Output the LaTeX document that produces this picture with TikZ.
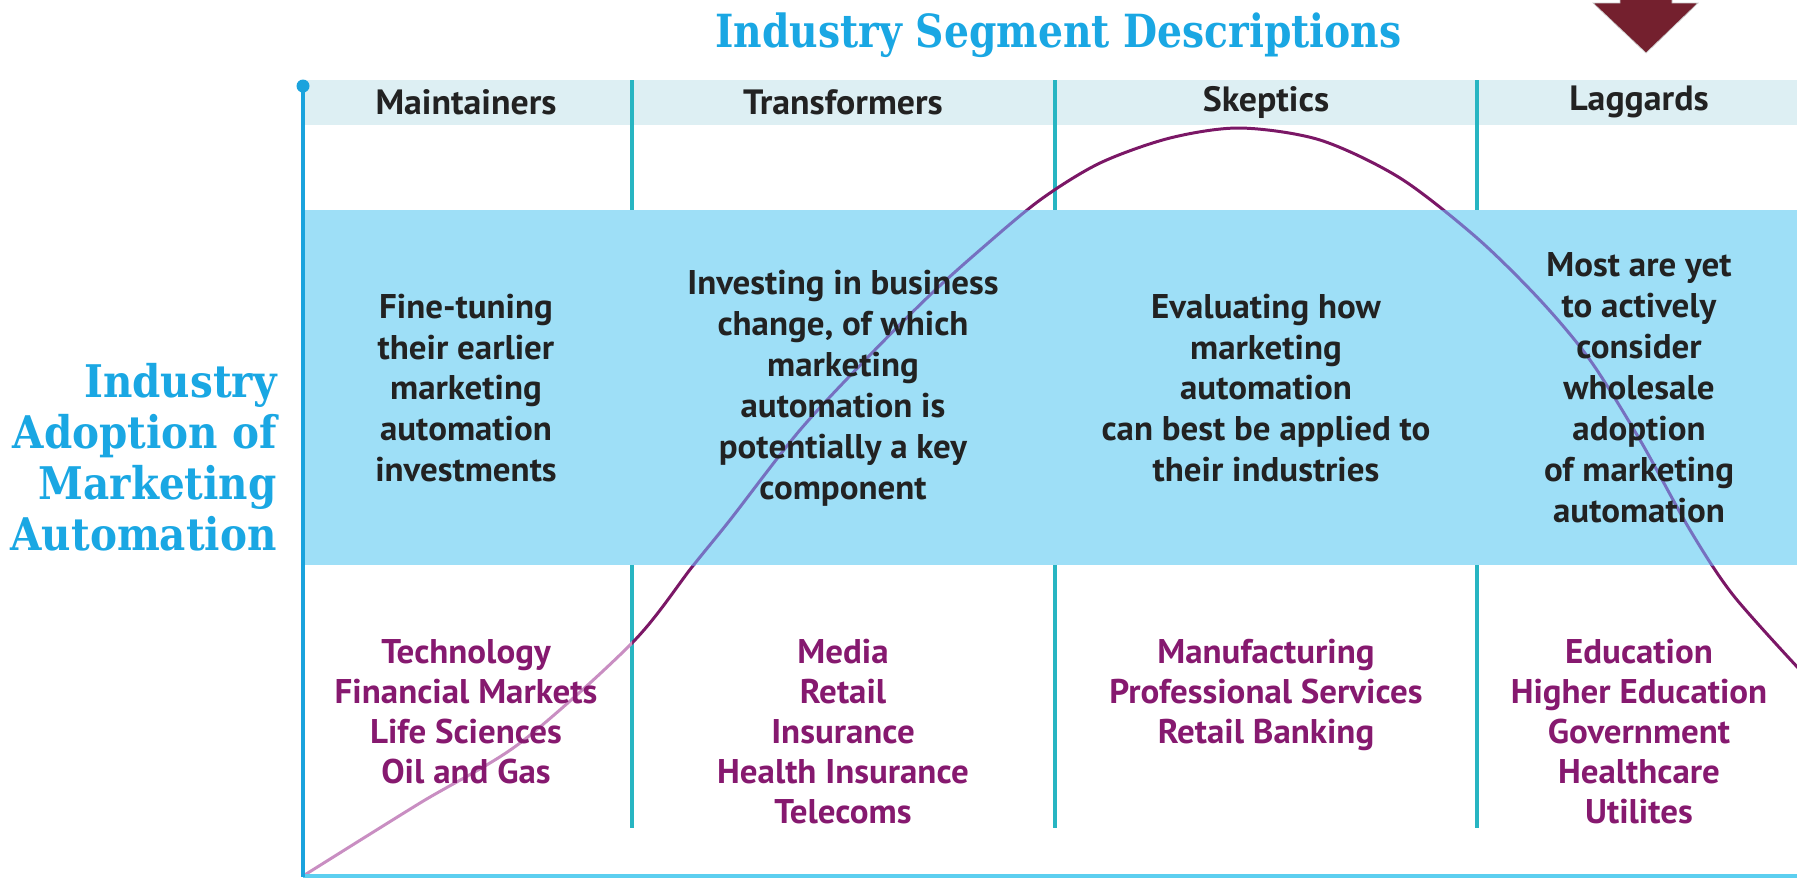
\documentclass[tikz,border=0pt]{standalone}
\usepackage{fontspec}
\newfontfamily\bodyfont{PT Sans}[FakeStretch=1.02]
\newfontfamily\slabfont{DejaVu Serif}[FakeStretch=0.86]
\newfontfamily\sidefont{DejaVu Serif}[FakeStretch=0.9]
\definecolor{headerbg}{HTML}{DDEFF3}
\definecolor{bandbg}{HTML}{9EDFF7}
\definecolor{axisblue}{HTML}{1AA3DD}
\definecolor{baseblue}{HTML}{5CCFF0}
\definecolor{divteal}{HTML}{27B5C2}
\definecolor{curvedark}{HTML}{7B1766}
\definecolor{curvepale}{HTML}{C98EC2}
\definecolor{curveband}{HTML}{7670C0}
\definecolor{listpurple}{HTML}{86196F}
\definecolor{desctext}{HTML}{222222}
\definecolor{titleblue}{HTML}{1AA7E3}
\definecolor{arrowred}{HTML}{74202E}
\begin{document}
\begin{tikzpicture}[x=0.02cm,y=-0.02cm,
  headtext/.style={inner sep=0pt,font=\bodyfont\bfseries\fontsize{20}{22}\selectfont,text=desctext},
  desc/.style={inner sep=0pt,align=center,font=\bodyfont\bfseries\fontsize{19.5}{23.3}\selectfont,text=desctext},
  industries/.style={inner sep=0pt,align=center,anchor=north,font=\bodyfont\bfseries\fontsize{19.5}{22.8}\selectfont,text=listpurple},
  divider/.style={draw=divteal,line width=2.2pt},
  curveline/.style={line width=1.7pt}]
\useasboundingbox (0,0) rectangle (1797,877);

% bands
\fill[headerbg] (305,80) rectangle (1797,125);
\fill[bandbg] (305,210) rectangle (1797,565);

% column dividers
\draw[divider] (632,80) -- (632,828);
\draw[divider] (1055,80) -- (1055,828);
\draw[divider] (1477,80) -- (1477,828);

% adoption curve, tinted by region
\def\adoptcurve{plot[smooth,tension=0.5] coordinates {(303,876) (420,803) (520,743) (633,642) (692,567) (730,520) (800,430) (870,355) (930,295) (980,250) (1040,200) (1100,163) (1170,138) (1240,128) (1320,140) (1400,178) (1477,238) (1540,300) (1590,360) (1640,440) (1690,530) (1733,595) (1800,670)}}
\begin{scope}
  \clip (632,0) rectangle (1797,877);
  \draw[curveline,curvedark] \adoptcurve;
\end{scope}
\begin{scope}
  \clip (0,0) rectangle (632,877);
  \draw[curveline,curvepale] \adoptcurve;
\end{scope}
\begin{scope}
  \clip (305,210) rectangle (1797,565);
  \fill[bandbg] (305,210) rectangle (1797,565);
  \draw[curveline,curveband] \adoptcurve;
\end{scope}

% axes
\draw[baseblue,line width=1.8pt] (303,876) -- (1797,876);
\draw[axisblue,line width=2.2pt] (303,86) -- (303,877);
\fill[axisblue] (303,86) circle (6.5);

% title and arrow
\node[inner sep=0pt,anchor=east,text=titleblue,font=\slabfont\bfseries\fontsize{26}{28}\selectfont] (title) at (1402,35) {Industry Segment Descriptions};
\fill[arrowred,draw=black!20,line width=0.4pt] (1620,-5) -- (1620,3) -- (1593,3) -- (1646,53) -- (1698,3) -- (1672,3) -- (1672,-5) -- cycle;

% side label
\node[inner sep=0pt,align=right,anchor=east,text=titleblue,font=\sidefont\bfseries\fontsize{25.6}{29}\selectfont] (ylabel) at (277,457) {Industry\\Adoption of\\Marketing\\Automation};

% column headers
\node[headtext] (h1) at (466,102) {Maintainers};
\node[headtext] (h2) at (843,102) {Transformers};
\node[headtext] (h3) at (1266,102) {Skeptics};
\node[headtext] (h4) at (1639,102) {Laggards};

% segment descriptions
\node[desc] (d1) at (466,388) {Fine-tuning\\their earlier\\marketing\\automation\\investments};
\node[desc] (d2) at (843,388) {Investing in business\\change, of which\\marketing\\automation is\\potentially a key\\component};
\node[desc] (d3) at (1266,388) {Evaluating how\\marketing\\automation\\can best be applied to\\their industries};
\node[desc] (d4) at (1639,388) {Most are yet\\to actively\\consider\\wholesale\\adoption\\of marketing\\automation};

% industries in each segment
\node[industries] (l1) at (466,639) {Technology\\Financial Markets\\Life Sciences\\Oil and Gas};
\node[industries] (l2) at (843,639) {Media\\Retail\\Insurance\\Health Insurance\\Telecoms};
\node[industries] (l3) at (1266,639) {Manufacturing\\Professional Services\\Retail Banking};
\node[industries] (l4) at (1639,639) {Education\\Higher Education\\Government\\Healthcare\\Utilites};
\end{tikzpicture}
\end{document}
